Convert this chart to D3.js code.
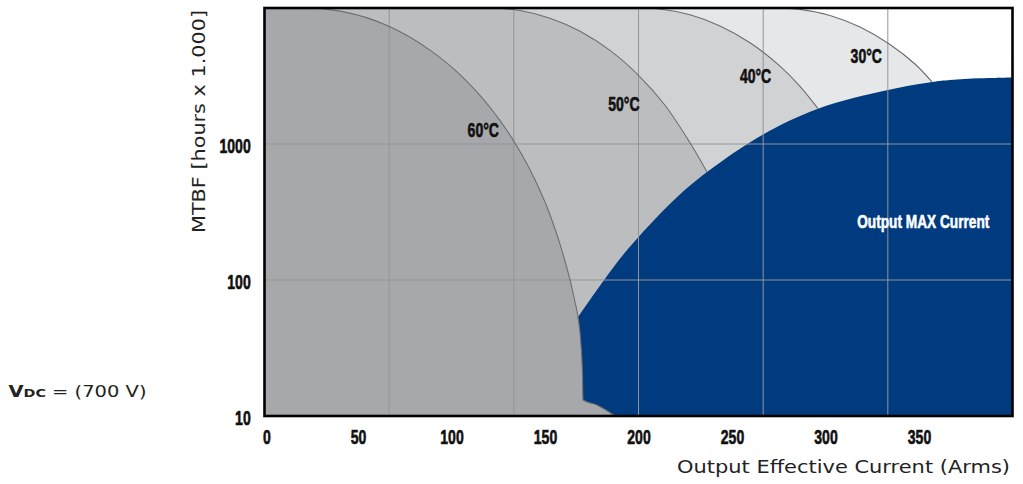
<!DOCTYPE html>
<html><head><meta charset="utf-8">
<script src="https://cdn.jsdelivr.net/npm/d3@7"></script>
<style>
body{margin:0;background:#fff;}
svg{display:block;}
</style></head><body>
<svg id="chart" width="1023" height="484"></svg>
<script>
// ---- data ----
const xTicks = [0, 50, 100, 150, 200, 250, 300, 350];
const yTicks = [10, 100, 1000];
const xGrid = [66.67, 133.33, 200, 266.67, 333.33];
const yGrid = [100, 1000];

// [current A, MTBF (hours x 1000)]
const curve60 = [[0,10000],[21.66,10000],[40.37,9484],[67.11,7278],[88.5,4898],[104.55,3236],[120.59,1858],[133.96,1016],[144.65,546],[152.67,302],[159.09,164.4],[163.9,93.5],[166.04,68.9],[167.65,53.4],[169.25,33.3],[170.05,20.0],[170.32,13.1],[177.65,12.05],[187.43,10]];
const curve50 = [[0,10000],[120.59,10000],[136.63,9594],[152.67,8413],[168.72,6745],[184.76,4875],[200.8,3119],[214.17,1928],[227.54,1021],[236.63,622]];
const curve40 = [[0,10000],[201.1,10000],[211.5,9840],[227.54,8913],[243.58,7382],[259.63,5559],[275.67,3733],[286.36,2655],[295.99,1820]];
const curve30 = [[0,10000],[274.6,10000],[286.36,9772],[302.41,8810],[318.45,7244],[334.49,5395],[347.86,3873],[356.95,2858]];
const maxCurrent = [[167.65,53.4],[181.6,100],[193.9,166],[219,387],[236.63,622],[266.6,1175],[295.99,1820],[333.4,2494],[356.95,2858],[366.58,2958],[382.62,3041],[400,3084]];

const tempLabels = ["60°C", "50°C", "40°C", "30°C"];
const tempLabelPos = [[117.0,1132],[192.2,1750],[262.6,2825],[321.8,3963]];
const maxLabel = "Output MAX Current";
const maxLabelPos = [387.6, 241];
const xTitle = "Output Effective Current (Arms)";
const yTitle = "MTBF [hours x 1.000]";

// ---- chart ----
const svg = d3.select("#chart");
const x = d3.scaleLinear().domain([0, 400]).range([264.5, 1012.5]);
const y = d3.scaleLog().domain([10, 10000]).range([416, 8]);

svg.append("defs").append("clipPath").attr("id","clip")
  .append("rect").attr("x",x(0)).attr("y",y(10000))
  .attr("width",x(400)-x(0)).attr("height",y(10)-y(10000));

const plot = svg.append("g").attr("clip-path","url(#clip)");
plot.append("rect").attr("x",x(0)).attr("y",y(10000))
  .attr("width",x(400)-x(0)).attr("height",y(10)-y(10000)).attr("fill","#fff");

const crv = d3.curveCatmullRom.alpha(0.5);
const mkArea = c => d3.area().x(d=>x(d[0])).y0(y(10)).y1(d=>y(d[1])).curve(c);
const mkLine = c => d3.line().x(d=>x(d[0])).y(d=>y(d[1])).curve(c);

plot.append("path").datum(curve30).attr("d",mkArea(crv)).attr("fill","#e6e7e8");
plot.append("path").datum(curve40).attr("d",mkArea(crv)).attr("fill","#d1d2d4");
plot.append("path").datum(curve50).attr("d",mkArea(crv)).attr("fill","#bcbdbf");
plot.append("path").datum(maxCurrent).attr("d",mkArea(crv)).attr("fill","#003b80");
plot.append("path").datum(curve60).attr("d",mkArea(d3.curveMonotoneX)).attr("fill","#a7a8ab");

// grid
plot.selectAll(".vg").data(xGrid).enter().append("line")
  .attr("x1",d=>x(d)).attr("x2",d=>x(d)).attr("y1",y(10)).attr("y2",y(10000))
  .attr("stroke","#939598").attr("stroke-width",1);
plot.selectAll(".hg").data(yGrid).enter().append("line")
  .attr("y1",d=>y(d)).attr("y2",d=>y(d)).attr("x1",x(0)).attr("x2",x(400))
  .attr("stroke","#939598").attr("stroke-width",1);

// curve strokes
plot.append("path").datum(curve60).attr("d",mkLine(d3.curveMonotoneX)).attr("fill","none")
  .attr("stroke","#6d6e71").attr("stroke-width",1.1);
[curve50, curve40, curve30].forEach(c=>{
  plot.append("path").datum(c).attr("d",mkLine(crv)).attr("fill","none")
    .attr("stroke","#6d6e71").attr("stroke-width",1.1);
});

// frame
svg.append("rect").attr("x",x(0)).attr("y",y(10000))
  .attr("width",x(400)-x(0)).attr("height",y(10)-y(10000))
  .attr("fill","none").attr("stroke","#000").attr("stroke-width",2.6);

const condFont = "'Liberation Sans', Arial, sans-serif";
function condense(sel, f){
  sel.each(function(){
    const t=d3.select(this);
    const tx=+t.attr("x")||0, ty=+t.attr("y")||0;
    t.attr("x",0).attr("y",0).attr("transform",`translate(${tx},${ty}) scale(${f},1)`);
  });
}
function heavy(sel, col){
  sel.attr("stroke",col).attr("stroke-width",0.6).attr("stroke-linejoin","round");
}

// axes
const xAxis = svg.append("g").attr("transform",`translate(0,${y(10)})`)
  .call(d3.axisBottom(x).tickValues(xTicks).tickSize(0).tickFormat(d3.format("d")));
xAxis.select(".domain").remove();
xAxis.selectAll("text").attr("dy",null).attr("y",28).attr("x",(d)=>d===0?2:0)
  .attr("font-family",condFont).attr("font-weight","bold").attr("font-size","19.5px").attr("fill","#111");
heavy(xAxis.selectAll("text"),"#111");
condense(xAxis.selectAll("text"), 0.72);

const yAxis = svg.append("g").attr("transform",`translate(${x(0)},0)`)
  .call(d3.axisLeft(y).tickValues(yTicks).tickSize(0).tickFormat(d3.format("d")));
yAxis.select(".domain").remove();
yAxis.selectAll("text").attr("dy",null).attr("x",-13.8).attr("y",8)
  .attr("font-family",condFont).attr("font-weight","bold").attr("font-size","19.5px").attr("fill","#111");
heavy(yAxis.selectAll("text"),"#111");
condense(yAxis.selectAll("text"), 0.72);

// temperature labels
const tl = svg.selectAll(".tl").data(tempLabels).enter().append("text")
  .attr("x",(d,i)=>x(tempLabelPos[i][0])).attr("y",(d,i)=>y(tempLabelPos[i][1]))
  .attr("text-anchor","middle").attr("font-family",condFont).attr("font-weight","bold")
  .attr("font-size","19.5px").attr("fill","#111").text(d=>d);
heavy(tl,"#111");
condense(tl, 0.72);

const ml = svg.append("text").attr("x",x(maxLabelPos[0])).attr("y",y(maxLabelPos[1]))
  .attr("text-anchor","end").attr("font-family",condFont).attr("font-weight","bold")
  .attr("font-size","19px").attr("fill","#fff").text(maxLabel);
heavy(ml,"#fff");
condense(ml, 0.72);

// titles
const wideFont = "'DejaVu Sans', Verdana, sans-serif";
svg.append("text").attr("x",1010).attr("y",472.7).attr("text-anchor","end")
  .attr("font-family",wideFont).attr("font-size","17px").attr("fill","#222")
  .attr("textLength",333).attr("lengthAdjust","spacingAndGlyphs").text(xTitle);

svg.append("text").attr("transform","translate(205,121.5) rotate(-90)").attr("text-anchor","middle")
  .attr("font-family",wideFont).attr("font-size","17px").attr("fill","#222")
  .attr("textLength",223).attr("lengthAdjust","spacingAndGlyphs").text(yTitle);

const vdc = svg.append("text").attr("x",8.5).attr("y",396.5)
  .attr("font-family",wideFont).attr("font-size","15px").attr("fill","#222")
  .attr("textLength",138).attr("lengthAdjust","spacingAndGlyphs");
vdc.append("tspan").attr("font-weight","bold").text("V");
vdc.append("tspan").attr("font-weight","bold").attr("font-size","11px").text("DC");
vdc.append("tspan").text(" = (700 V)");
</script>
</body></html>
